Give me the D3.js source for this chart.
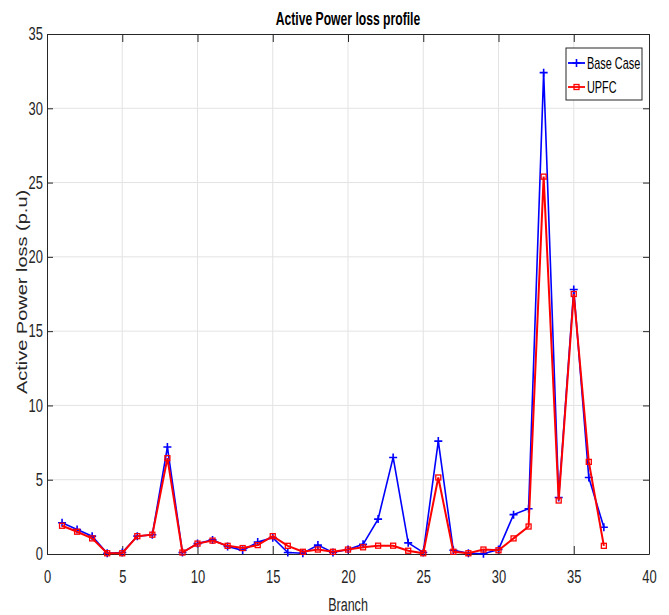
<!DOCTYPE html>
<html>
<head>
<meta charset="utf-8">
<script src="https://d3js.org/d3.v7.min.js"></script>
<style>
    body { margin: 0; background: #fff; }
    svg text { font-family: "Liberation Sans", Arial, sans-serif; }
    .tick text { fill: #262626; font-size: 18px; }
    .title { font-size: 19px; font-weight: bold; fill: #000; }
    .ylabel { font-size: 20px; fill: #262626; }
    .xlabel { font-size: 19px; fill: #262626; }
    .legend text { font-size: 17px; fill: #000; }
</style>
</head>
<body>
<svg id="svg"></svg>
<script>
    let branches = d3.range(1, 38);
    let baseCase = [2.1, 1.65, 1.2, 0.05, 0.1, 1.2, 1.3, 7.2, 0.1, 0.7,
                    0.95, 0.5, 0.25, 0.8, 1.1, 0.1, 0.05, 0.6, 0.1, 0.3,
                    0.65, 2.35, 6.5, 0.75, 0.1, 7.6, 0.25, 0.05, 0.02, 0.3,
                    2.65, 3.05, 32.4, 3.8, 17.8, 5.15, 1.8];
    let upfc = [1.9, 1.5, 1.05, 0.05, 0.05, 1.2, 1.3, 6.45, 0.1, 0.7,
                0.9, 0.55, 0.4, 0.6, 1.2, 0.55, 0.15, 0.3, 0.15, 0.3,
                0.45, 0.56, 0.56, 0.22, 0.05, 5.15, 0.15, 0.05, 0.3, 0.25,
                1.05, 1.85, 25.4, 3.6, 17.5, 6.2, 0.55];
    let xTicks = [0, 5, 10, 15, 20, 25, 30, 35, 40];
    let yTicks = [0, 5, 10, 15, 20, 25, 30, 35];

    let width = 669, height = 615;
    let plotLeft = 47, plotRight = 649, plotTop = 34, plotBottom = 554;
    // the original figure was squeezed sideways, so text is condensed
    let squeeze = 0.72;

    let svg = d3.select('#svg').attr('width', width).attr('height', height);

    let xScale = d3.scaleLinear().domain([0, 40]).range([plotLeft, plotRight]);
    let yScale = d3.scaleLinear().domain([0, 35]).range([plotBottom, plotTop]);

    // grid
    svg.append('g').selectAll('line').data(xTicks.slice(1, -1)).join('line')
        .attr('x1', d => xScale(d)).attr('x2', d => xScale(d))
        .attr('y1', plotTop).attr('y2', plotBottom)
        .attr('stroke', '#e3e3e3').attr('stroke-width', 1);
    svg.append('g').selectAll('line').data(yTicks.slice(1, -1)).join('line')
        .attr('y1', d => yScale(d)).attr('y2', d => yScale(d))
        .attr('x1', plotLeft).attr('x2', plotRight)
        .attr('stroke', '#e3e3e3').attr('stroke-width', 1);

    // axes (ticks pointing inward)
    let xAxis = d3.axisBottom(xScale).tickValues(xTicks).tickSizeInner(-8).tickSizeOuter(0).tickPadding(16);
    let yAxis = d3.axisLeft(yScale).tickValues(yTicks).tickSizeInner(-6).tickSizeOuter(0).tickPadding(4);
    let xTop = d3.axisTop(xScale).tickValues(xTicks).tickSizeInner(-8).tickSizeOuter(0).tickFormat('');
    let yRight = d3.axisRight(yScale).tickValues(yTicks).tickSizeInner(-6).tickSizeOuter(0).tickFormat('');

    [
        [xAxis, `translate(0, ${plotBottom})`],
        [yAxis, `translate(${plotLeft}, 0)`],
        [xTop, `translate(0, ${plotTop})`],
        [yRight, `translate(${plotRight}, 0)`]
    ].forEach(([ax, tr]) => {
        let g = svg.append('g').attr('transform', tr).call(ax);
        g.select('.domain').attr('stroke', '#262626').attr('stroke-width', 1);
        g.selectAll('.tick line').attr('stroke', '#262626');
        g.selectAll('.tick text')
            .attr('x', function() { return +d3.select(this).attr('x') / squeeze; })
            .attr('transform', `scale(${squeeze}, 1)`);
    });

    // lines
    let line = d3.line().x((d, i) => xScale(branches[i])).y(d => yScale(d));

    svg.append('path').datum(baseCase)
        .attr('d', line).attr('fill', 'none')
        .attr('stroke', '#0000ff').attr('stroke-width', 1.6);
    svg.append('g').selectAll('path').data(baseCase).join('path')
        .attr('transform', (d, i) => `translate(${xScale(branches[i])}, ${yScale(d)})`)
        .attr('d', 'M-4,0H4M0,-4V4')
        .attr('stroke', '#0000ff').attr('stroke-width', 1.6);

    svg.append('path').datum(upfc)
        .attr('d', line).attr('fill', 'none')
        .attr('stroke', '#ff0000').attr('stroke-width', 2);
    svg.append('g').selectAll('rect').data(upfc).join('rect')
        .attr('x', (d, i) => xScale(branches[i]) - 2.5)
        .attr('y', d => yScale(d) - 2.5)
        .attr('width', 5).attr('height', 5)
        .attr('fill', 'none').attr('stroke', '#ff0000').attr('stroke-width', 1.3);

    // title and labels
    let midX = (plotLeft + plotRight) / 2;
    svg.append('text').attr('class', 'title')
        .attr('transform', `translate(${midX}, 25) scale(0.64, 1)`)
        .attr('text-anchor', 'middle').text('Active Power loss profile');
    svg.append('text').attr('class', 'xlabel')
        .attr('transform', `translate(${midX}, 611) scale(0.66, 1)`)
        .attr('text-anchor', 'middle').text('Branch');
    svg.append('text').attr('class', 'ylabel')
        .attr('transform', `translate(27, 292) rotate(-90) scale(1, 0.75)`)
        .attr('text-anchor', 'middle').text('Active Power loss (p.u)');

    // legend
    let legend = svg.append('g').attr('class', 'legend');
    legend.append('rect')
        .attr('x', 566).attr('y', 48).attr('width', 76).attr('height', 52)
        .attr('fill', '#fff').attr('stroke', '#262626').attr('stroke-width', 1);
    let entries = [
        { name: 'Base Case', color: '#0000ff', marker: 'plus', y: 63 },
        { name: 'UPFC', color: '#ff0000', marker: 'square', y: 87 }
    ];
    entries.forEach(e => {
        legend.append('line')
            .attr('x1', 568).attr('x2', 585).attr('y1', e.y).attr('y2', e.y)
            .attr('stroke', e.color).attr('stroke-width', 1.8);
        if (e.marker == 'plus') {
            legend.append('path').attr('d', `M572.5,${e.y}H580.5M576.5,${e.y - 4}V${e.y + 4}`)
                .attr('stroke', e.color).attr('stroke-width', 1.6);
        } else {
            legend.append('rect').attr('x', 574).attr('y', e.y - 2.5).attr('width', 5).attr('height', 5)
                .attr('fill', 'none').attr('stroke', e.color).attr('stroke-width', 1.3);
        }
        legend.append('text')
            .attr('transform', `translate(587, ${e.y + 6}) scale(0.64, 1)`)
            .text(e.name);
    });
</script>
</body>
</html>
